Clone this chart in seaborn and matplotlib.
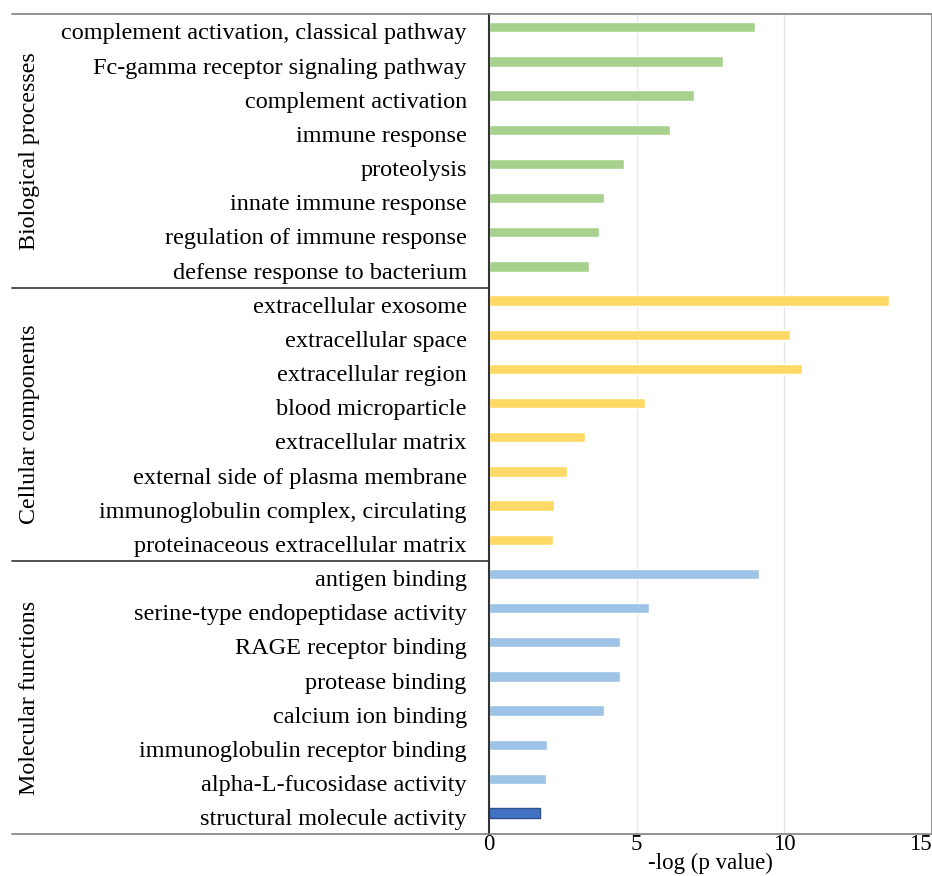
import numpy as np
import pandas as pd
import matplotlib
matplotlib.use("Agg")
import matplotlib.pyplot as plt
import seaborn as sns

# ── data ─────────────────────────────────────────────────────────────
groups = ["Biological processes", "Cellular components", "Molecular functions"]

bp_terms = ["complement activation, classical pathway",
            "Fc-gamma receptor signaling pathway",
            "complement activation",
            "immune response",
            "proteolysis",
            "innate immune response",
            "regulation of immune response",
            "defense response to bacterium"]
bp_vals = [9.02, 7.92, 6.96, 6.15, 4.58, 3.89, 3.73, 3.39]

cc_terms = ["extracellular exosome",
            "extracellular space",
            "extracellular region",
            "blood microparticle",
            "extracellular matrix",
            "external side of plasma membrane",
            "immunoglobulin complex, circulating",
            "proteinaceous extracellular matrix"]
cc_vals = [13.55, 10.19, 10.62, 5.29, 3.25, 2.65, 2.20, 2.16]

mf_terms = ["antigen binding",
            "serine-type endopeptidase activity",
            "RAGE receptor binding",
            "protease binding",
            "calcium ion binding",
            "immunoglobulin receptor binding",
            "alpha-L-fucosidase activity",
            "structural molecule activity"]
mf_vals = [9.14, 5.41, 4.45, 4.43, 3.89, 1.95, 1.92, 1.73]

x_ticks = [0, 5, 10, 15]
x_label = "-log (p value)"

df = pd.DataFrame({
    "term": bp_terms + cc_terms + mf_terms,
    "value": bp_vals + cc_vals + mf_vals,
    "group": [groups[0]] * 8 + [groups[1]] * 8 + [groups[2]] * 8,
})

bar_colors = ["#A9D18E"] * 8 + ["#FFD966"] * 8 + ["#9DC3E6"] * 7 + ["#4472C4"]

# ── plot ─────────────────────────────────────────────────────────────
sns.set_style("white")
plt.rcParams["font.family"] = ["Liberation Serif", "DejaVu Serif"]
plt.rcParams["text.color"] = "black"
plt.rcParams["xtick.color"] = "black"
plt.rcParams["ytick.color"] = "black"
plt.rcParams["axes.labelcolor"] = "black"

fig = plt.figure(figsize=(9.32, 8.76), dpi=100)
ax = fig.add_axes([489 / 932, 1 - 834.3 / 876, (931.6 - 489) / 932, (834.3 - 14.3) / 876])

sns.barplot(data=df, y="term", x="value", hue="term", palette=bar_colors,
            legend=False, width=0.3, orient="h", ax=ax, saturation=1)

# last bar has a darker outline
ax.patches[-1].set_edgecolor("#2F528F")
ax.patches[-1].set_linewidth(1.0)

n = len(df)
shift = 0.12   # bars sit slightly above the category centre
ax.set_ylim(n - 0.5 + shift, -0.5 + shift)
ax.set_yticks(np.arange(n) + shift)
ax.set_yticklabels(df["term"], fontsize=17.5)
ax.tick_params(axis="y", length=0, pad=16)

ax.set_xlim(0, 15)
ax.set_xticks(x_ticks)
ax.set_xticklabels([str(t) for t in x_ticks], fontsize=16.5)
ax.get_xticklabels()[-1].set_horizontalalignment("right")   # keep "15" inside the figure
ax.tick_params(axis="x", length=0, pad=0)
ax.set_xlabel(x_label, fontsize=16.5, labelpad=-2)
ax.set_ylabel("")

ax.grid(axis="x", color="#E6E6E6", linewidth=0.9)
ax.set_axisbelow(True)
for s in ["top", "right", "bottom"]:
    ax.spines[s].set_color("#808080")
    ax.spines[s].set_linewidth(1.2)
ax.spines["left"].set_color("#333333")
ax.spines["left"].set_linewidth(1.5)

# frame lines extending into the label area + group separators
x0 = 12 / 932
ax_left = 489 / 932
trans = ax.get_yaxis_transform()
for yy in [-0.5 + shift, 7.5 + shift, 15.5 + shift, n - 0.5 + shift]:
    col = "#808080" if yy in (-0.5 + shift, n - 0.5 + shift) else "#333333"
    ax.plot([(x0 - ax_left) / ax.get_position().width, 0], [yy, yy],
            transform=trans, color=col, linewidth=1.2, clip_on=False)

for i, g in enumerate(groups):
    yc = i * 8 + 3.5 + shift
    ax.text((30 / 932 - ax_left) / ax.get_position().width, yc, g,
            transform=trans, rotation=90, ha="center", va="center", fontsize=17.3)

plt.savefig("out.png", dpi=100)
plt.close()
